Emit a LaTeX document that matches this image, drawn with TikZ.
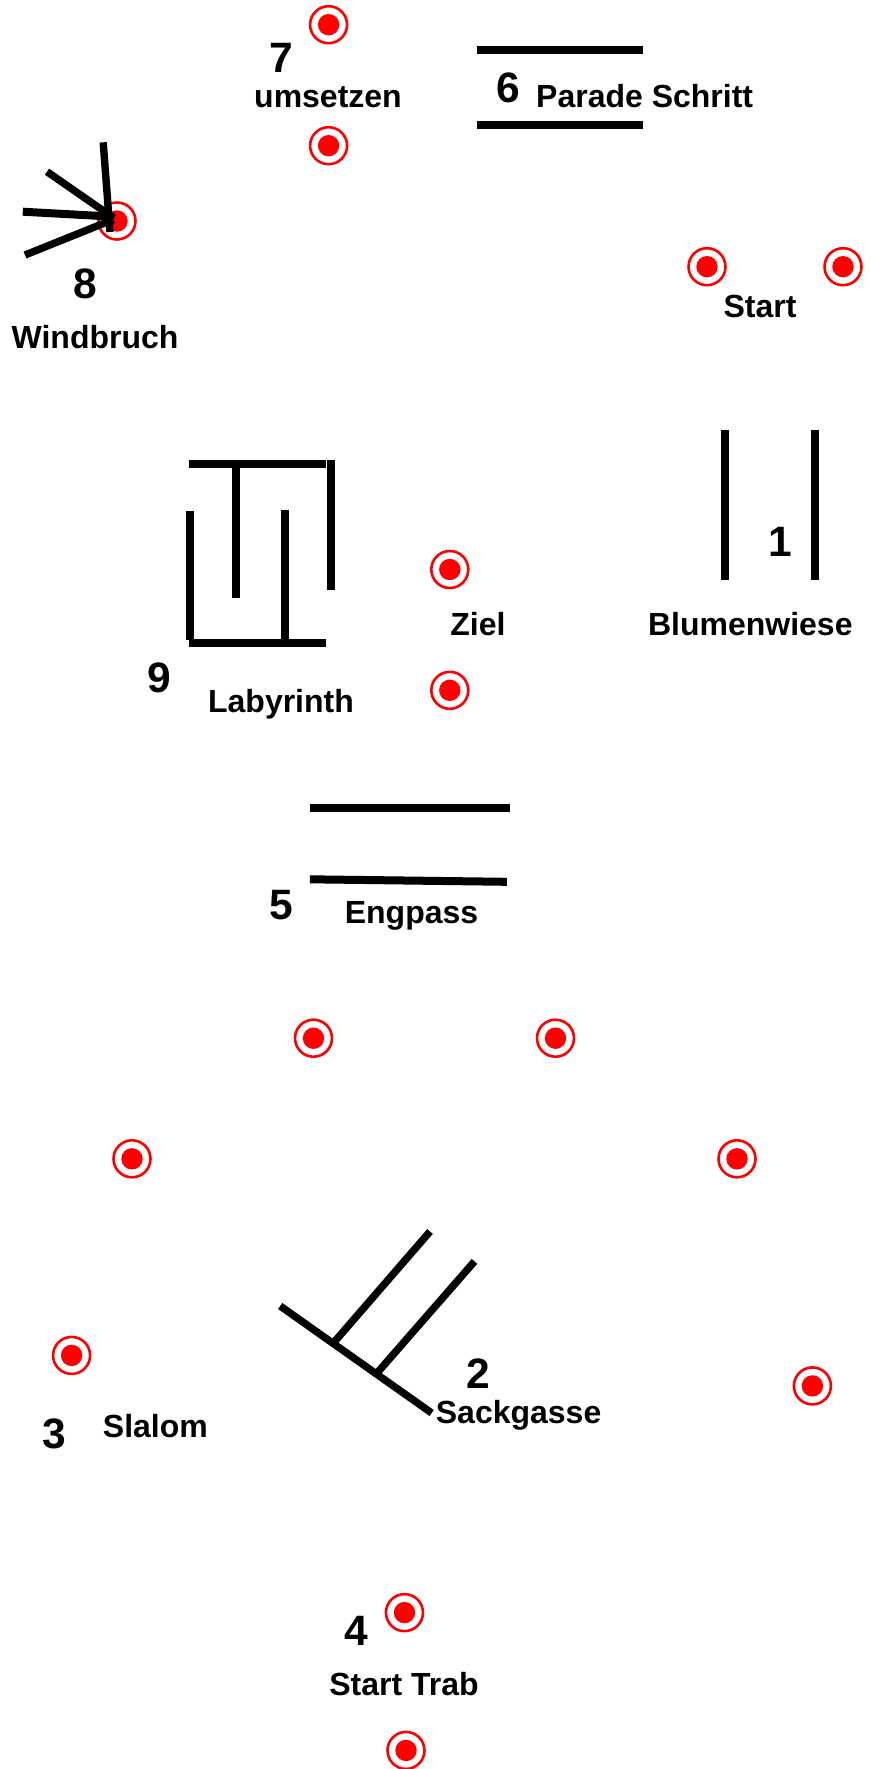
\documentclass[tikz,border=0pt]{standalone}
\usepackage{fontspec}
\setmainfont{Liberation Sans}
\tikzset{
    %Define style for the cones
    cone/.style={
      circle,
      draw=red,
      line width=2.6pt,
      fill=white,
      inner sep=0pt,
      minimum size=37pt,
      path picture={\fill[red] (path picture bounding box.center) circle (10.7pt);}},
    % Define style for the poles
    pole/.style={
      line width=8pt,
      draw=black},
    thinpole/.style={
      line width=7.4pt,
      draw=black},
    % Define text styles
    lab/.style={
      anchor=base,
      inner sep=0pt,
      font=\fontsize{32}{36}\selectfont\bfseries},
    num/.style={
      anchor=base,
      inner sep=0pt,
      font=\fontsize{42.5}{46}\selectfont\bfseries}
}
\begin{document}
\begin{tikzpicture}[x=1pt, y=-1pt]
    \useasboundingbox (0,0) rectangle (870,1769);

    % cones
    \node[cone] (umsetzen1) at (328.6,24.7) {};
    \node[cone] (umsetzen2) at (328.6,145.7) {};
    \node[cone] (windbruch) at (117,221) {};
    \node[cone] (start1) at (707,266.7) {};
    \node[cone] (start2) at (843,266.7) {};
    \node[cone] (ziel1) at (449.8,569.5) {};
    \node[cone] (ziel2) at (449.8,690.3) {};
    \node[cone] (slalom1) at (313.5,1038.2) {};
    \node[cone] (slalom2) at (555.5,1038.2) {};
    \node[cone] (slalom3) at (132,1158.8) {};
    \node[cone] (slalom4) at (737,1158.8) {};
    \node[cone] (slalom5) at (71.6,1355.4) {};
    \node[cone] (slalom6) at (812.4,1385.9) {};
    \node[cone] (trab1) at (404.5,1612.6) {};
    \node[cone] (trab2) at (406,1750.4) {};

    % parade schritt
    \draw[pole] (476.7,50) -- (643,50);
    \draw[pole] (476.7,125.3) -- (643,125.3);

    % windbruch
    \draw[thinpole] (103.2,142.3) -- (110,232);
    \draw[thinpole] (47,171.7) -- (113.8,218);
    \draw[pole] (22.8,211.7) -- (113.8,216.7);
    \draw[thinpole] (25,255) -- (113.8,219.3);

    % labyrinth
    \draw[pole] (189,463.8) -- (325.9,463.8);
    \draw[pole] (189,642.8) -- (325.9,642.8);
    \draw[pole] (330.9,459.6) -- (330.9,590.4);
    \draw[pole] (189.5,510.7) -- (189.5,640.4);
    \draw[pole] (235.9,467.9) -- (235.9,598.2);
    \draw[pole] (285.4,509.6) -- (285.4,639.3);

    % blumenwiese
    \draw[pole] (725,429.8) -- (725,580);
    \draw[pole] (815.4,429.8) -- (815.4,580);

    % engpass
    \draw[pole] (309.8,807.5) -- (510.4,807.5);
    \draw[pole] (309.8,879.3) -- (506.8,881.8);

    % sackgasse
    \draw[thinpole] (280.2,1306) -- (431.7,1413);
    \draw[thinpole] (334,1342.3) -- (430,1231.5);
    \draw[thinpole] (377.3,1372.7) -- (474.5,1261.4);

    % labels
    \node[num] (n7) at (281,72.7) {7};
    \node[lab] (umsetzen) at (328,107.2) {umsetzen};
    \node[num] (n6) at (508,102.7) {6};
    \node[lab] (parade) at (644.7,107.2) {Parade Schritt};
    \node[num] (n8) at (85,298) {8};
    \node[lab] (wind) at (95,348.8) {Windbruch};
    \node[lab] (startlab) at (760,317.5) {Start};
    \node[num] (n1) at (780,556.5) {1};
    \node[lab] (blumen) at (750.3,635.5) {Blumenwiese};
    \node[lab] (ziel) at (478,635.5) {Ziel};
    \node[num] (n9) at (159.5,692) {9};
    \node[lab] (laby) at (281,712.3) {Labyrinth};
    \node[num] (n5) at (281.3,919.6) {5};
    \node[lab] (eng) at (411.5,923.5) {Engpass};
    \node[num] (n2) at (478,1388) {2};
    \node[lab] (sack) at (518.6,1423) {Sackgasse};
    \node[num] (n3) at (54,1448.7) {3};
    \node[lab] (slalom) at (155.4,1437.5) {Slalom};
    \node[num] (n4) at (356.4,1645) {4};
    \node[lab] (trab) at (404,1695.4) {Start Trab};
\end{tikzpicture}
\end{document}
